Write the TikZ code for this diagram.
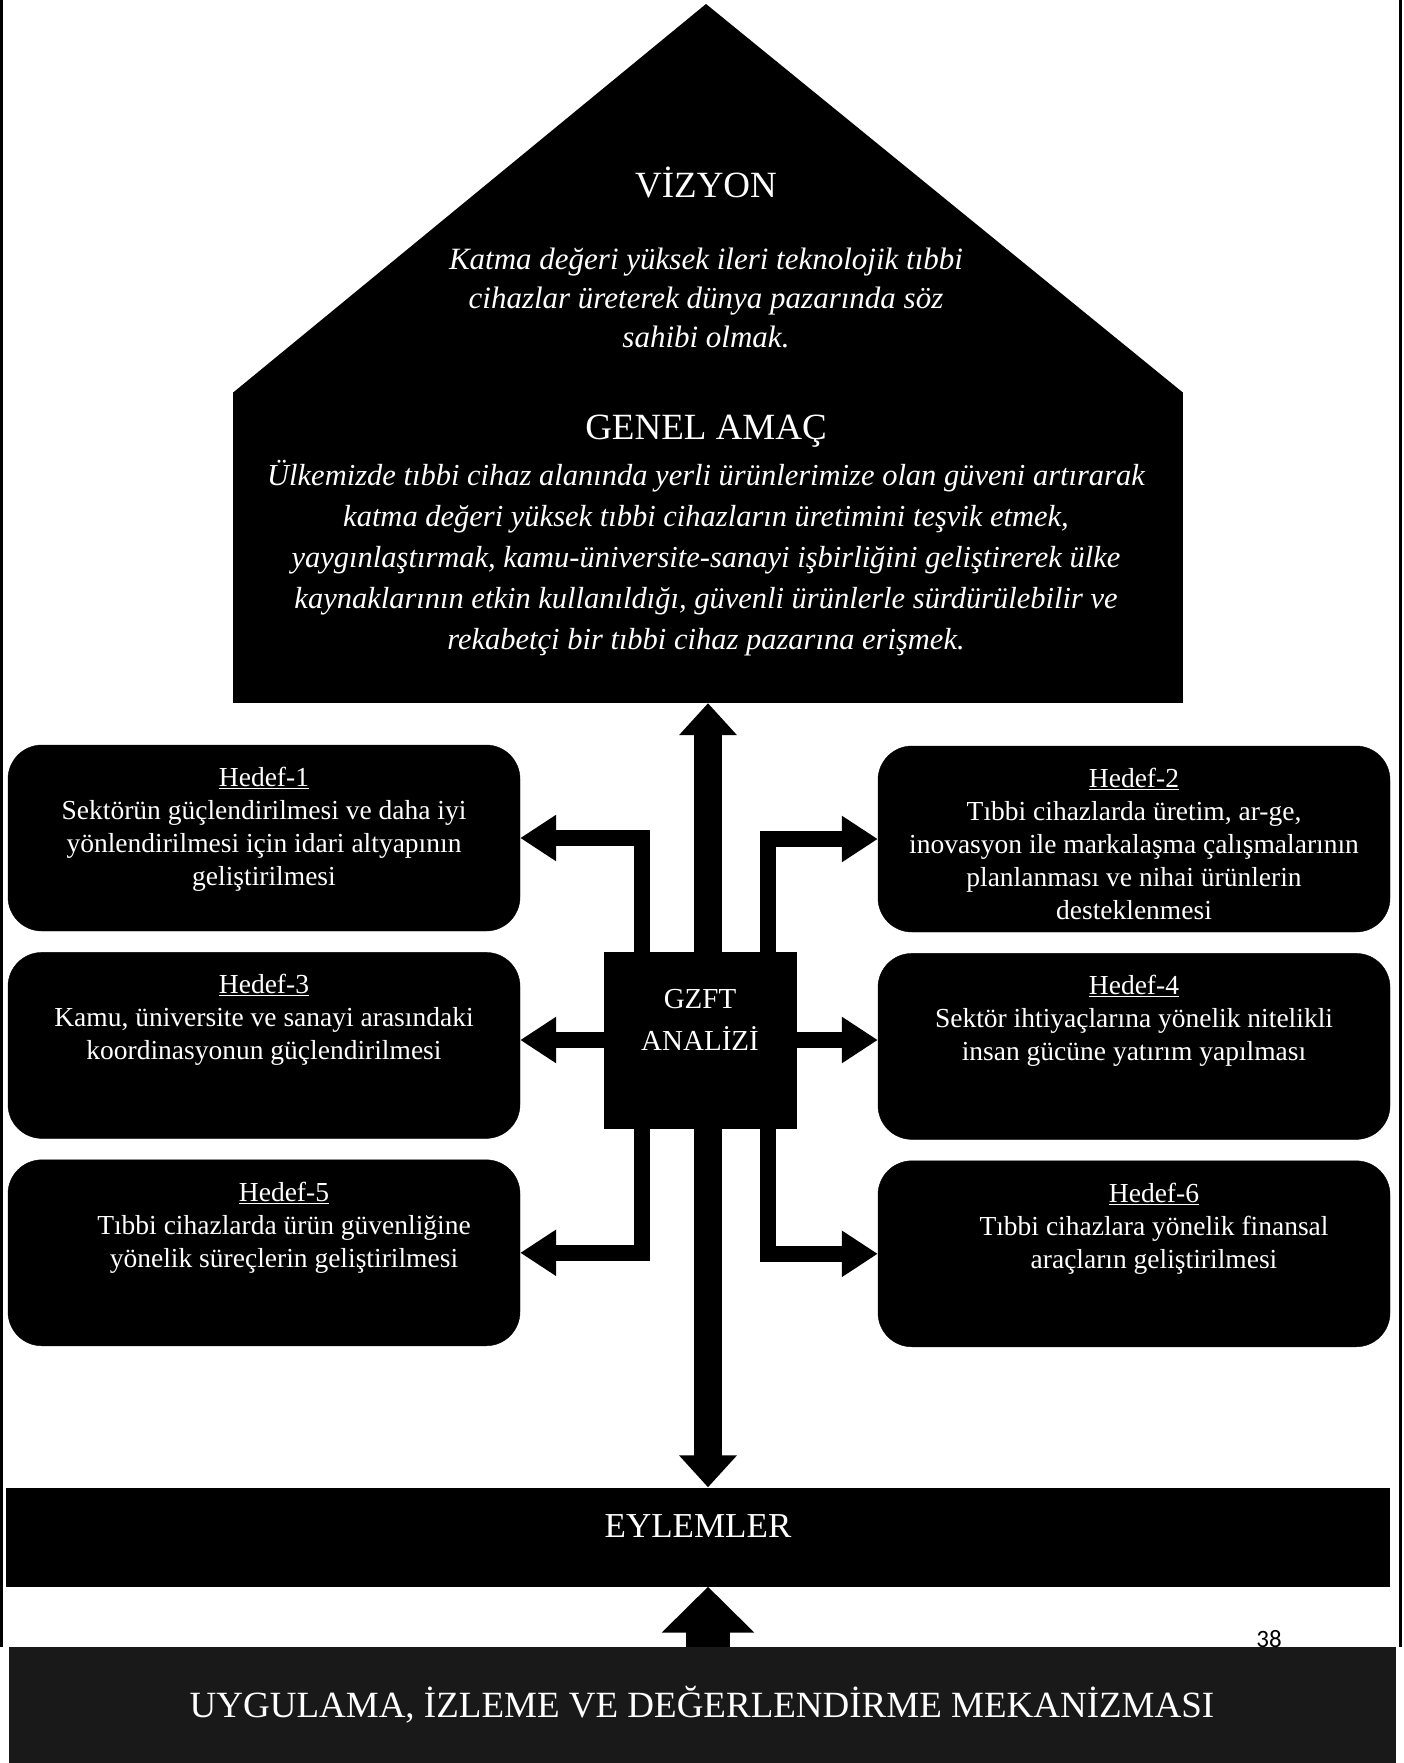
\documentclass[tikz,border=0pt]{standalone}
\usepackage{fontspec}
\setmainfont{Liberation Serif}
\newfontfamily\numfont{Carlito}
\usetikzlibrary{positioning,arrows.meta}
\tikzset{
  hedefbox/.style={draw=black,fill=black,rounded corners=34pt,minimum width=512pt,minimum height=186pt,inner sep=0pt},
  hedeftext/.style={text=white,align=center,inner sep=0pt,font=\fontsize{27.5}{33}\selectfont},
  gzftbox/.style={draw=black,fill=black,minimum width=192pt,minimum height=176pt},
  gzfttext/.style={text=white,align=center,inner sep=0pt,font=\fontsize{29}{42}\selectfont},
  barbox/.style={fill=black,text=white,inner sep=0pt,font=\fontsize{35}{40}\selectfont},
  titletext/.style={text=white,font=\fontsize{37}{40}\selectfont},
  bodytext/.style={text=white,align=center,font=\itshape\fontsize{31}{39}\selectfont},
  sidearrow/.style={line width=16pt,-{Triangle[length=36pt,width=44pt]}},
  midarrow/.style={line width=28pt,{Triangle[length=32pt,width=56pt]}-{Triangle[length=32pt,width=56pt]}},
  uparrow/.style={line width=44pt,-{Triangle[length=46pt,width=90pt]}}
}

\begin{document}
\begin{tikzpicture}[x=1pt,y=-1pt]
\useasboundingbox (0,0) rectangle (1403,1763);

% page frame
\draw[line width=3pt] (1.5,0) -- (1.5,1647);
\draw[line width=3pt] (1400,0) -- (1400,1647);

% house: vision roof and general aim
\node[fill=black,minimum width=950pt,minimum height=310pt,inner sep=0pt] (amac) at (708,548) {};
\coordinate (tepe) at (706,4);
\fill[black] (amac.north west) -- (tepe) -- (amac.north east) -- cycle;

\node[titletext] (vizyon) at (706,183) {VİZYON};
\node[bodytext] (vizyonmetin) at (706,298)
{Katma değeri yüksek ileri teknolojik tıbbi\\
cihazlar üreterek dünya pazarında söz\\
sahibi olmak.};

\node[titletext] (amacbaslik) at (706,431) {GENEL AMAÇ};
\node[bodytext,font=\itshape\fontsize{30.5}{41}\selectfont] (amacmetin) at (706,558)
{Ülkemizde tıbbi cihaz alanında yerli ürünlerimize olan güveni artırarak\\
katma değeri yüksek tıbbi cihazların üretimini teşvik etmek,\\
yaygınlaştırmak, kamu-üniversite-sanayi işbirliğini geliştirerek ülke\\
kaynaklarının etkin kullanıldığı, güvenli ürünlerle sürdürülebilir ve\\
rekabetçi bir tıbbi cihaz pazarına erişmek.};

% goals
\node[hedefbox] (h1) at (264,838) {};
\node[hedefbox,below=21pt of h1] (h3) {};
\node[hedefbox,below=21pt of h3] (h5) {};
\node[hedefbox] (h2) at (1134,839) {};
\node[hedefbox,below=21pt of h2] (h4) {};
\node[hedefbox,below=21pt of h4] (h6) {};

\node[hedeftext,below=22pt of h1.north] (t1)
{\underline{Hedef-1}\\Sektörün güçlendirilmesi ve daha iyi\\
yönlendirilmesi için idari altyapının\\geliştirilmesi};
\node[hedeftext,below=22pt of h2.north] (t2)
{\underline{Hedef-2}\\Tıbbi cihazlarda üretim, ar-ge,\\
inovasyon ile markalaşma çalışmalarının\\
planlanması ve nihai ürünlerin\\desteklenmesi};
\node[hedeftext,below=22pt of h3.north] (t3)
{\underline{Hedef-3}\\Kamu, üniversite ve sanayi arasındaki\\
koordinasyonun güçlendirilmesi};
\node[hedeftext,below=22pt of h4.north] (t4)
{\underline{Hedef-4}\\Sektör ihtiyaçlarına yönelik nitelikli\\
insan gücüne yatırım yapılması};
\node[hedeftext,below=22pt of h5.north,xshift=20pt] (t5)
{\underline{Hedef-5}\\Tıbbi cihazlarda ürün güvenliğine\\
yönelik süreçlerin geliştirilmesi};
\node[hedeftext,below=22pt of h6.north,xshift=20pt] (t6)
{\underline{Hedef-6}\\Tıbbi cihazlara yönelik finansal\\
araçların geliştirilmesi};

% bottom bars
\node[barbox,minimum width=1384pt,minimum height=99pt] (eylem) at (698,1537) {};
\node[barbox] (eylemyazi) at (698,1526) {EYLEMLER};
\node[barbox,minimum width=1387pt,minimum height=116pt,fill=black!90,
  font=\fontsize{37}{40}\selectfont] (uyg) at (702,1705)
{UYGULAMA, İZLEME VE DEĞERLENDİRME MEKANİZMASI};
\node[font=\numfont\fontsize{25}{25}\selectfont] (sayfa) at (1269,1639) {38};

\draw[midarrow] (amac.south) -- (amac.south |- eylem.north);
\draw[uparrow] (uyg.north -| amac.south) -- (eylem.south -| amac.south);

% analysis box and its arrows
\node[gzftbox] (gzft) at (700,1040) {};
\node[gzfttext] (gzftyazi) at (700,1020) {GZFT\\ANALİZİ};

\draw[sidearrow] ([xshift=-58pt]gzft.north) |- (h1.east);
\draw[sidearrow] ([xshift=68pt]gzft.north) |- (h2.west);
\draw[sidearrow] (gzft.west) -- (gzft.west -| h3.east);
\draw[sidearrow] (gzft.east) -- (gzft.east -| h4.west);
\draw[sidearrow] ([xshift=-58pt]gzft.south) |- (h5.east);
\draw[sidearrow] ([xshift=68pt]gzft.south) |- (h6.west);
\end{tikzpicture}
\end{document}
